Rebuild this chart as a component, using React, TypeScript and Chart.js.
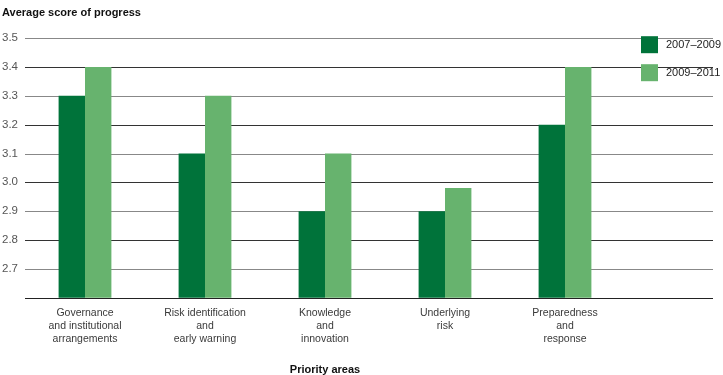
import { useEffect, useRef } from "react";
import { Chart, registerables } from "chart.js";

Chart.register(...registerables);

const categories: string[][] = [
  ["Governance", "and institutional", "arrangements"],
  ["Risk identification", "and", "early warning"],
  ["Knowledge", "and", "innovation"],
  ["Underlying", "risk"],
  ["Preparedness", "and", "response"],
];
const seriesNames = ["2007–2009", "2009–2011"];
const values2007 = [3.3, 3.1, 2.9, 2.9, 3.2];
const values2009 = [3.4, 3.3, 3.1, 2.98, 3.4];
const yMin = 2.6;
const yMax = 3.5;
const yStep = 0.1;

const FONT = "'Liberation Sans', Arial, sans-serif";

const extendedGrid = {
  id: "extendedGrid",
  beforeDatasetsDraw(chart: any) {
    const y = chart.scales.y;
    const { ctx, chartArea } = chart;
    ctx.save();
    ctx.lineWidth = 1;
    y.ticks.forEach((t: any, i: number) => {
      const py = Math.round(y.getPixelForValue(t.value)) + 0.5;
      ctx.strokeStyle = i === 0 ? "#222" : i % 2 === 0 ? "#333" : "#888";
      ctx.beginPath();
      ctx.moveTo(chartArea.left, py);
      ctx.lineTo(chart.width - 10, py);
      ctx.stroke();
    });
    ctx.restore();
  },
};

const sideLegend = {
  id: "sideLegend",
  afterDraw(chart: any) {
    const { ctx, chartArea } = chart;
    ctx.save();
    ctx.font = `11px ${FONT}`;
    ctx.textBaseline = "middle";
    ctx.textAlign = "left";
    chart.data.datasets.forEach((ds: any, i: number) => {
      const x = chartArea.right + 16;
      const y = chartArea.top - 2 + i * 28;
      ctx.fillStyle = ds.backgroundColor;
      ctx.fillRect(x, y, 17, 17);
      ctx.fillStyle = "#222";
      ctx.fillText(ds.label, x + 25, y + 9);
    });
    ctx.restore();
  },
};

export default function App() {
  const ref = useRef<HTMLCanvasElement>(null);
  useEffect(() => {
    document.body.style.margin = "0";
    const chart = new Chart(ref.current!, {
      type: "bar",
      data: {
        labels: categories,
        datasets: [
          {
            label: seriesNames[0],
            data: values2007,
            backgroundColor: "#00733a",
            borderWidth: 0,
            categoryPercentage: 0.44,
            barPercentage: 1,
          },
          {
            label: seriesNames[1],
            data: values2009,
            backgroundColor: "#67b36e",
            borderWidth: 0,
            categoryPercentage: 0.44,
            barPercentage: 1,
          },
        ],
      },
      options: {
        animation: false,
        responsive: false,
        devicePixelRatio: 1,
        layout: { padding: { left: 2, right: 98, top: 0, bottom: 0 } },
        plugins: {
          title: {
            display: true,
            text: "Average score of progress",
            align: "start",
            color: "#111",
            font: { family: FONT, size: 11, weight: "bold" },
            padding: { top: 6, bottom: 19 },
          },
          legend: { display: false },
          tooltip: { enabled: false },
        },
        scales: {
          x: {
            grid: { display: false },
            border: { display: false },
            ticks: {
              color: "#3a3a3a",
              font: { family: FONT, size: 10.5, lineHeight: 1.25 },
              maxRotation: 0,
              autoSkip: false,
              padding: 1,
            },
            title: {
              display: true,
              text: "Priority areas",
              color: "#111",
              font: { family: FONT, size: 11, weight: "bold", lineHeight: 1 },
              padding: { top: 17, bottom: 0 },
            },
          },
          y: {
            min: yMin,
            max: yMax,
            grid: { display: false },
            border: { display: false },
            afterFit: (scale: any) => {
              scale.width = 23;
            },
            ticks: {
              stepSize: yStep,
              color: "#555",
              crossAlign: "far",
              padding: 6,
              font: { family: FONT, size: 11.5 },
              callback: (v: any) => (Math.abs(Number(v) - yMin) < 1e-6 ? "" : Number(v).toFixed(1)),
            },
          },
        },
      },
      plugins: [extendedGrid, sideLegend],
    });
    return () => chart.destroy();
  }, []);
  return (
    <div style={{ width: 723, height: 375 }}>
      <canvas ref={ref} width={723} height={375} />
    </div>
  );
}
